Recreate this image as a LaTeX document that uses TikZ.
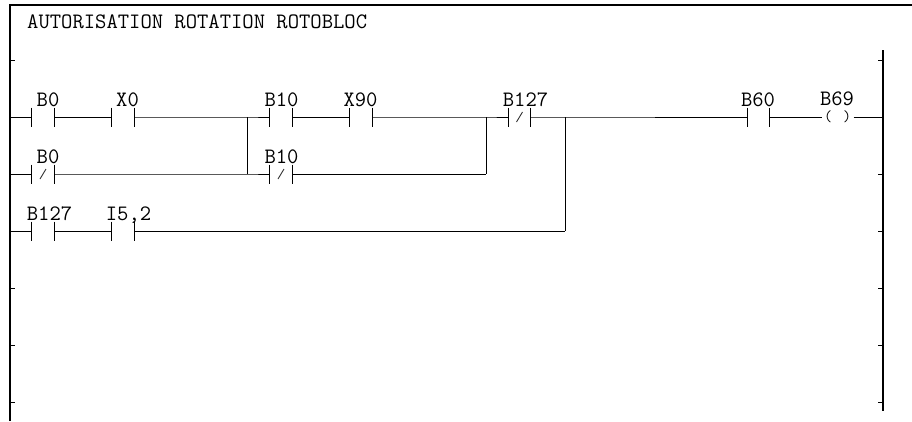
\documentclass[tikz,border=0pt]{standalone}
\usepackage{fontspec}
\begin{document}
\begin{tikzpicture}[x=1pt,y=-1pt,
  wire/.style={line width=1pt,black},
  rail/.style={line width=2pt,black},
  tick/.style={line width=1pt,black},
  lbl/.style={font=\ttfamily\fontsize{22}{24}\selectfont,anchor=base,inner sep=0},
  contact/.style={minimum width=22.5pt,minimum height=19pt,inner sep=0,outer sep=0},
  coil/.style={font=\ttfamily\fontsize{15.5}{15.5}\selectfont,inner sep=0,outer sep=0,minimum width=32pt}]
\useasboundingbox (0,0) rectangle (912,421);
% frame and rails
\draw[rail] (9.5,421) -- (9.5,5) -- (912,5);
\draw[rail] (883,50) -- (883,411);
\foreach \y in {60,288,345,402} \draw[tick] (10,\y) -- (15,\y);
\foreach \y in {60,174,231,288,345,402} \draw[tick] (878,\y) -- (883,\y);
% title
\node[lbl,anchor=base west] (title) at (27,28.5) {AUTORISATION ROTATION ROTOBLOC};
% rail coordinates and junctions
\coordinate (L1) at (10,117);
\coordinate (L2) at (10,174);
\coordinate (L3) at (10,231);
\coordinate (R1) at (883,117);
\coordinate (j1) at (247,117);
\coordinate (j1b) at (247,174);
\coordinate (j2) at (486,117);
\coordinate (j2b) at (486,174);
\coordinate (j3) at (565,117);
\coordinate (j3b) at (565,231);
% contacts
\node[contact] (cB0) at (43,117) {};
\node[contact] (cX0) at (123,117) {};
\node[contact] (cB10) at (281,117) {};
\node[contact] (cX90) at (361,117) {};
\node[contact] (cB127) at (519.5,117) {};
\node[contact] (cB60) at (758.5,117) {};
\node[coil] (coil) at (837.5,117) {(\hspace{11pt})};
\node[contact] (nB0) at (43,174) {};
\node[contact] (nB10) at (281,174) {};
\node[contact] (dB127) at (43,231) {};
\node[contact] (dI52) at (123,231) {};
\foreach \n in {cB0,cX0,cB10,cX90,cB127,cB60,nB0,nB10,dB127,dI52}
  \draw[wire] (\n.north west) -- (\n.south west) (\n.north east) -- (\n.south east);
\foreach \n in {cB127,nB0,nB10}
  \draw[line width=0.9pt,black!80] ([xshift=-3pt,yshift=-5pt]\n.center) -- ([xshift=3pt,yshift=5pt]\n.center);
% labels
\node[lbl] (lB0) at (48,106) {B0};
\node[lbl] (lX0) at (127.5,106) {X0};
\node[lbl] (lB10) at (281.5,106) {B10};
\node[lbl] (lX90) at (360.5,106) {X90};
\node[lbl] (lB127) at (525.5,106) {B127};
\node[lbl] (lB60) at (758,106) {B60};
\node[lbl] (lB69) at (837,105) {B69};
\node[lbl] (lB0b) at (48,163) {B0};
\node[lbl] (lB10b) at (281.5,163) {B10};
\node[lbl] (lB127b) at (49.5,220) {B127};
\node[lbl] (lI52) at (128.5,220) {I5,2};
% wires rung 1
\draw[wire] (L1) -- (cB0.west);
\draw[wire] (cB0.east) -- (cX0.west);
\draw[wire] (cX0.east) -- (j1) -- (cB10.west);
\draw[wire] (cB10.east) -- (cX90.west);
\draw[wire] (cX90.east) -- (j2) -- (cB127.west);
\draw[wire] (cB127.east) -- (j3) -- (cB60.west);
\draw[wire] (cB60.east) -- (coil.west);
\draw[wire] (coil.east) -- (R1);
% rung 2
\draw[wire] (L2) -- (nB0.west);
\draw[wire] (nB0.east) -- (j1b) -- (nB10.west);
\draw[wire] (nB10.east) -- (j2b);
\draw[wire] (j1) -- (j1b);
\draw[wire] (j2) -- (j2b);
% rung 3
\draw[wire] (L3) -- (dB127.west);
\draw[wire] (dB127.east) -- (dI52.west);
\draw[wire] (dI52.east) -- (j3b);
\draw[wire] (j3) -- (j3b);
\end{tikzpicture}
\end{document}
